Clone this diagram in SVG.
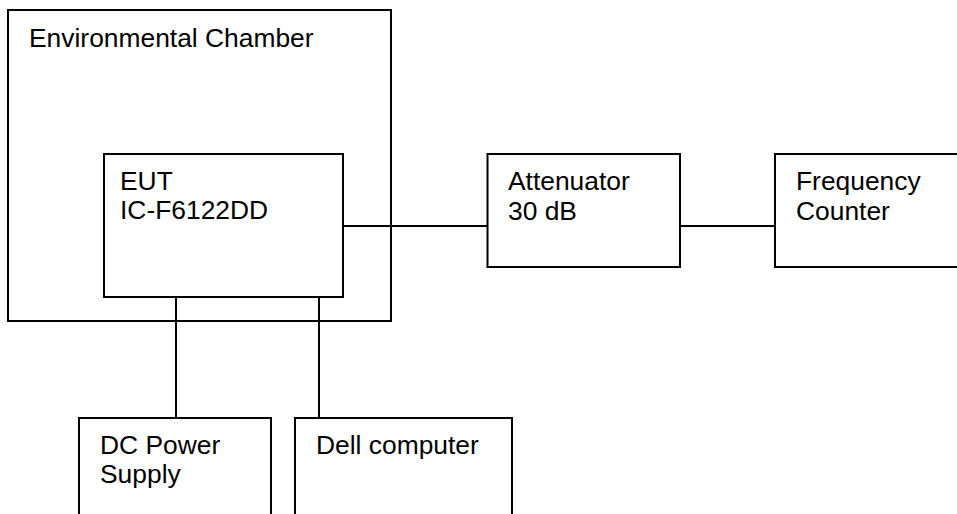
<svg xmlns="http://www.w3.org/2000/svg" width="957" height="514" viewBox="0 0 957 514">
<style>
.box{fill:none;stroke:#000;stroke-width:2}
.ln{stroke:#000;stroke-width:2;fill:none}
text{font-family:"Liberation Sans",Arial,sans-serif;font-size:26.4px;fill:#000}
</style>
<rect width="957" height="514" fill="#fff"/>
<g id="chamber"><rect class="box" x="8" y="10" width="383" height="311"/><text x="29" y="46.5">Environmental Chamber</text></g>
<g id="eut"><rect class="box" x="104" y="154" width="239" height="143"/><text x="120" y="190">EUT</text><text x="120" y="219">IC-F6122DD</text></g>
<g id="attenuator"><rect class="box" x="487.5" y="154" width="192.5" height="113"/><text x="508" y="190">Attenuator</text><text x="508" y="220">30 dB</text></g>
<g id="counter"><rect class="box" x="775" y="154" width="200" height="113"/><text x="796" y="190">Frequency</text><text x="796" y="220">Counter</text></g>
<g id="dcpower"><rect class="box" x="79" y="418" width="192" height="120"/><text x="100" y="454">DC Power</text><text x="100" y="483">Supply</text></g>
<g id="dell"><rect class="box" x="295" y="418" width="217" height="120"/><text x="316" y="454">Dell computer</text></g>
<g id="connectors">
<line class="ln" x1="343" y1="226" x2="487.5" y2="226"/>
<line class="ln" x1="680" y1="226" x2="775" y2="226"/>
<line class="ln" x1="176" y1="297" x2="176" y2="418"/>
<line class="ln" x1="319" y1="297" x2="319" y2="418"/>
</g>
</svg>
